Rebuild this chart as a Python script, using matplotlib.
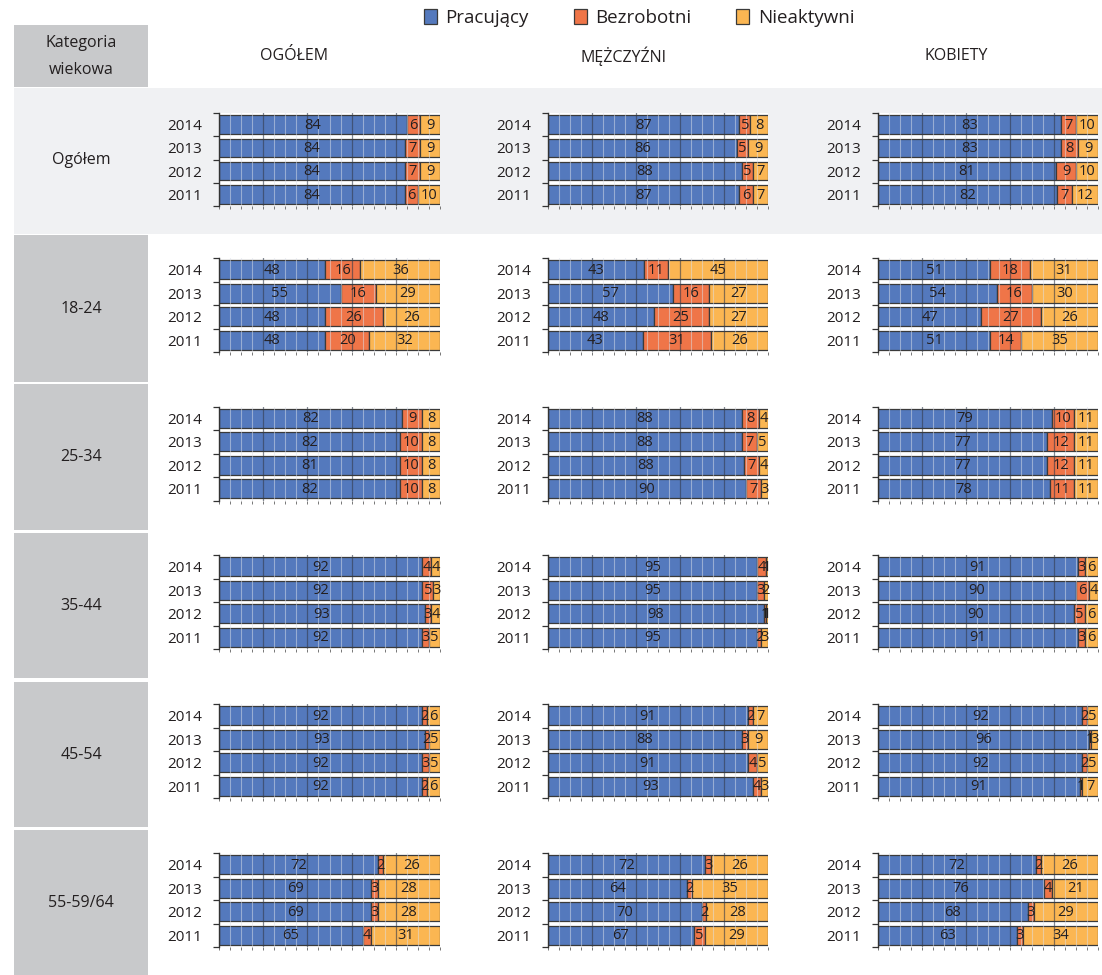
import numpy as np
import matplotlib
matplotlib.use('Agg')
import matplotlib.pyplot as plt
from matplotlib.patches import Rectangle

plt.rcParams['font.family'] = ['Open Sans', 'DejaVu Sans']

# ---------------- data ----------------
years = ['2014', '2013', '2012', '2011']
age_groups = ['Ogółem', '18-24', '25-34', '35-44', '45-54', '55-59/64']
groups = ['OGÓŁEM', 'MĘŻCZYŹNI', 'KOBIETY']
series_names = ['Pracujący', 'Bezrobotni', 'Nieaktywni']

# OGÓŁEM (rows: age groups; values: 2014, 2013, 2012, 2011)
ogolem_pracujacy = [[84, 84, 84, 84], [48, 55, 48, 48], [82, 82, 81, 82],
                    [92, 92, 93, 92], [92, 93, 92, 92], [72, 69, 69, 65]]
ogolem_bezrobotni = [[6, 7, 7, 6], [16, 16, 26, 20], [9, 10, 10, 10],
                     [4, 5, 3, 3], [2, 2, 3, 2], [2, 3, 3, 4]]
ogolem_nieaktywni = [[9, 9, 9, 10], [36, 29, 26, 32], [8, 8, 8, 8],
                     [4, 3, 4, 5], [6, 5, 5, 6], [26, 28, 28, 31]]

# MĘŻCZYŹNI
mezczyzni_pracujacy = [[87, 86, 88, 87], [43, 57, 48, 43], [88, 88, 88, 90],
                       [95, 95, 98, 95], [91, 88, 91, 93], [72, 64, 70, 67]]
mezczyzni_bezrobotni = [[5, 5, 5, 6], [11, 16, 25, 31], [8, 7, 7, 7],
                        [4, 3, 1, 2], [2, 3, 4, 4], [3, 2, 2, 5]]
mezczyzni_nieaktywni = [[8, 9, 7, 7], [45, 27, 27, 26], [4, 5, 4, 3],
                        [1, 2, 1, 3], [7, 9, 5, 3], [26, 35, 28, 29]]

# KOBIETY
kobiety_pracujacy = [[83, 83, 81, 82], [51, 54, 47, 51], [79, 77, 77, 78],
                     [91, 90, 90, 91], [92, 96, 92, 91], [72, 76, 68, 63]]
kobiety_bezrobotni = [[7, 8, 9, 7], [18, 16, 27, 14], [10, 12, 12, 11],
                      [3, 6, 5, 3], [2, 1, 2, 1], [2, 4, 3, 3]]
kobiety_nieaktywni = [[10, 9, 10, 12], [31, 30, 26, 35], [11, 11, 11, 11],
                      [6, 4, 6, 6], [5, 3, 5, 7], [26, 21, 29, 34]]

panels = [
    (ogolem_pracujacy, ogolem_bezrobotni, ogolem_nieaktywni),
    (mezczyzni_pracujacy, mezczyzni_bezrobotni, mezczyzni_nieaktywni),
    (kobiety_pracujacy, kobiety_bezrobotni, kobiety_nieaktywni),
]

colors = ['#5479BD', '#EF7548', '#FBB652']

# ---------------- layout (pixels) ----------------
W, H = 1102, 975
fig = plt.figure(figsize=(W / 100, H / 100), dpi=100)
fig.patch.set_facecolor('white')


def px_rect(x0, y0, x1, y1):
    return [x0 / W, 1 - y1 / H, (x1 - x0) / W, (y1 - y0) / H]


def add_bg(x0, y0, x1, y1, color):
    l, b, w, h = px_rect(x0, y0, x1, y1)
    fig.add_artist(Rectangle((l, b), w, h, transform=fig.transFigure,
                             facecolor=color, edgecolor='none', zorder=-10))


gray = '#C8C9CB'
light = '#F0F1F3'
add_bg(14, 25, 148, 87, gray)
add_bg(14, 88, W, 234, light)
cell_rows = [(235, 382), (384, 530), (533, 678), (682, 827), (830, 975)]
for y0, y1 in cell_rows:
    add_bg(14, y0, 148, y1, gray)

txt_color = '#231F20'
fig.text(81 / W, 1 - 43 / H, 'Kategoria', ha='center', va='center',
         fontsize=11.5, color=txt_color)
fig.text(81 / W, 1 - 70 / H, 'wiekowa', ha='center', va='center',
         fontsize=11.5, color=txt_color)

header_x = [294, 623, 956]
for hx, g in zip(header_x, groups):
    fig.text(hx / W, 1 - 56 / H, g, ha='center', va='center',
             fontsize=11.5, color=txt_color)

row_label_y = [160, 309, 457, 606, 755, 903]
for ry, a in zip(row_label_y, age_groups):
    fig.text(81 / W, 1 - ry / H, a, ha='center', va='center',
             fontsize=11.5, color=txt_color)

panel_x = [(219, 440), (548, 768), (878, 1098)]
row_y = [(113, 206), (258, 352), (406.5, 500.5), (555, 649), (704, 798), (853, 947)]

ypos = np.arange(len(years))
handles = None
for pi, (px0, px1) in enumerate(panel_x):
    P, B, N = panels[pi]
    for ri, (py0, py1) in enumerate(row_y):
        ax = fig.add_axes(px_rect(px0, py0, px1, py1))
        ax.set_facecolor('white')
        vals = np.array([P[ri], B[ri], N[ri]], dtype=float)  # 3 x 4
        totals = vals.sum(axis=0)
        shares = vals / totals * 100
        left = np.zeros(len(years))
        bars_list = []
        for si in range(3):
            bars = ax.barh(ypos, shares[si], left=left, height=0.8,
                           color=colors[si], edgecolor='#3A3A3A',
                           linewidth=0.9, zorder=2, label=series_names[si])
            bars_list.append(bars)
            for yi in range(len(years)):
                ax.text(left[yi] + shares[si][yi] / 2, ypos[yi] + 0.03,
                        f'{int(vals[si][yi])}', ha='center', va='center',
                        fontsize=10.5, color=txt_color, zorder=6)
            left = left + shares[si]
        if handles is None:
            handles = bars_list
        ax.set_xlim(0, 100)
        ax.set_ylim(len(years) - 0.5, -0.5)
        # grid lines drawn over the bars
        for gx in range(5, 100, 5):
            if gx % 20 == 0:
                ax.axvline(gx, color='#333A4A', lw=0.9, alpha=0.6, zorder=3)
            else:
                ax.axvline(gx, color='#DDE1EA', lw=0.8, alpha=0.5, zorder=3)
        for s in ['top', 'right', 'bottom']:
            ax.spines[s].set_visible(False)
        ax.spines['left'].set_color('#333333')
        ax.spines['left'].set_linewidth(1.0)
        ax.set_yticks(ypos)
        ax.set_yticklabels(years, fontsize=11, color=txt_color)
        ax.set_yticks(np.arange(-0.5, len(years)), minor=True)
        ax.tick_params(axis='y', which='major', length=0, pad=12)
        ax.tick_params(axis='y', which='minor', length=4, width=0.9,
                       color='#333333', direction='out')
        ax.set_xticks(np.arange(0, 101, 5))
        ax.tick_params(axis='x', which='major', length=2.5, width=0.7,
                       color='#777777', direction='out', labelbottom=False)

fig.legend(handles=handles, labels=series_names, loc='center',
           bbox_to_anchor=(639 / W, 1 - 18 / H), ncol=3, frameon=False,
           fontsize=13.5, handlelength=0.7, handleheight=0.85,
           handletextpad=0.45, columnspacing=2.4, borderaxespad=0,
           labelcolor=txt_color)

fig.savefig('out.png', dpi=100, facecolor='white')
